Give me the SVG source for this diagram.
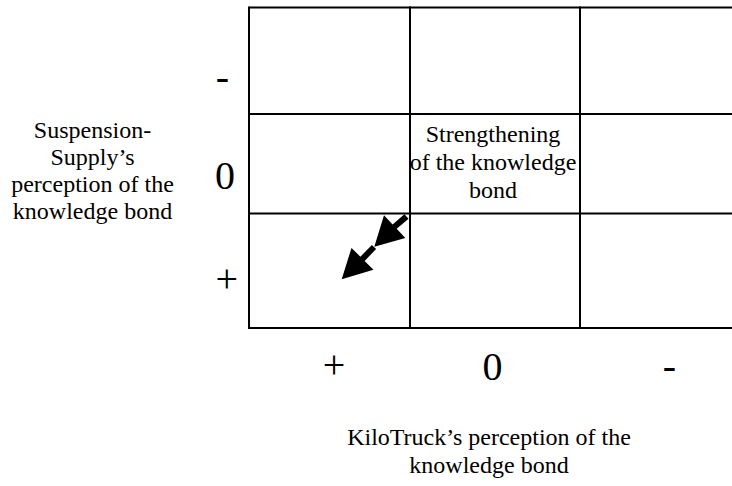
<svg xmlns="http://www.w3.org/2000/svg" width="732" height="486" viewBox="0 0 732 486">
<style>
text{font-family:'Liberation Serif','Times New Roman',Times,serif;fill:#000;text-anchor:middle}
.t{font-size:24px}
.big{font-size:40px}
.g{stroke:#000;stroke-width:2;fill:none}
</style>
<rect width="732" height="486" fill="#fff"/>
<g id="grid">
<line class="g" x1="249" y1="7.5" x2="740" y2="7.5"/>
<line class="g" x1="249" y1="114" x2="740" y2="114"/>
<line class="g" x1="249" y1="213.5" x2="740" y2="213.5"/>
<line class="g" x1="249" y1="328" x2="740" y2="328"/>
<line class="g" x1="249" y1="6.5" x2="249" y2="329"/>
<line class="g" x1="410" y1="6.5" x2="410" y2="329"/>
<line class="g" x1="580" y1="6.5" x2="580" y2="329"/>
</g>
<g id="cell-strengthening">
<text class="t" x="493" y="142" font-family="Liberation Serif, serif">Strengthening</text>
<text class="t" x="493" y="170" font-family="Liberation Serif, serif">of the knowledge</text>
<text class="t" x="493" y="198" font-family="Liberation Serif, serif">bond</text>
</g>
<g id="y-axis-label">
<text class="t" x="92.5" y="137.5">Suspension-</text>
<text class="t" x="92.5" y="164.5">Supply’s</text>
<text class="t" x="92.5" y="192">perception of the</text>
<text class="t" x="92.5" y="219">knowledge bond</text>
</g>
<g id="y-ticks">
<text class="big" x="222.5" y="89.5">-</text>
<text class="big" x="225" y="188.5">0</text>
<text class="big" x="226.7" y="291.5">+</text>
</g>
<g id="x-ticks">
<text class="big" x="334" y="378">+</text>
<text class="big" x="492.5" y="379.5">0</text>
<text class="big" x="669.5" y="379">-</text>
</g>
<g id="x-axis-label">
<text class="t" x="489" y="445">KiloTruck’s perception of the</text>
<text class="t" x="489" y="473">knowledge bond</text>
</g>
<g id="connectors" fill="#000">
<polygon points="404.4,214.3 408.6,218.7 396.7,228.8 405.3,238 374.3,246.7 384,215.3 392.6,224.5"/>
<polygon points="371.9,244.9 376.1,249.1 364.6,261 373.5,269.8 341.7,279.3 351.5,247.9 360.4,256.7"/>
</g>
</svg>
